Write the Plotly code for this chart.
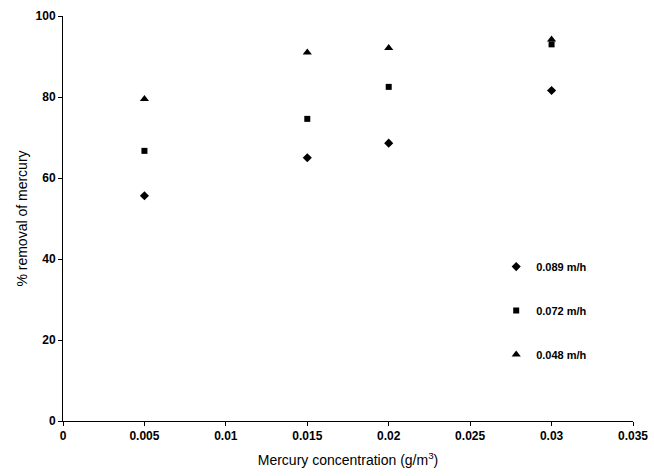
import plotly.graph_objects as go

conc = [0.005, 0.015, 0.02, 0.03]
removal_089 = [55.6, 65.0, 68.6, 81.6]
removal_072 = [66.7, 74.6, 82.5, 93.0]
removal_048 = [79.5, 91.0, 92.1, 94.2]

series = [
    ("0.089 m/h", removal_089, "diamond", 7),
    ("0.072 m/h", removal_072, "square", 6),
    ("0.048 m/h", removal_048, "triangle-up", 8),
]

fig = go.Figure()
for i, (name, vals, sym, sz) in enumerate(series):
    fig.add_trace(go.Scatter(
        x=conc, y=vals, mode="markers", name=name,
        legendgroup=f"g{i}",
        marker=dict(symbol=sym, size=sz, color="black"),
    ))

tickfont = dict(family="Liberation Sans, Arial", size=12, color="black", weight="bold")
fig.update_layout(
    width=654, height=476,
    margin=dict(l=63, r=21, t=16, b=55),
    paper_bgcolor="white", plot_bgcolor="white",
    font=dict(family="Liberation Sans, Arial", color="black"),
    legend=dict(
        x=0.76, y=0.417, xanchor="left", yanchor="top",
        font=dict(family="Liberation Sans, Arial", size=11, color="black", weight="bold"),
        tracegroupgap=25, itemwidth=30, bgcolor="rgba(0,0,0,0)",
    ),
    xaxis=dict(
        range=[0, 0.035], tickvals=[0, 0.005, 0.01, 0.015, 0.02, 0.025, 0.03, 0.035],
        ticktext=["0", "0.005", "0.01", "0.015", "0.02", "0.025", "0.03", "0.035"],
        showgrid=False, zeroline=False, showline=True, linecolor="black", linewidth=1,
        ticks="outside", ticklen=4, tickcolor="black", tickfont=tickfont,
        automargin=False,
        title=dict(text="Mercury concentration (g/m<sup>3</sup>)",
                   font=dict(family="Liberation Sans, Arial", size=14, color="black"),
                   standoff=12),
    ),
    yaxis=dict(
        range=[0, 100], tickvals=[0, 20, 40, 60, 80, 100],
        showgrid=False, zeroline=False, showline=True, linecolor="black", linewidth=1,
        ticks="outside", ticklen=4, tickcolor="black", tickfont=tickfont,
        automargin=False,
        title=dict(text="% removal of mercury",
                   font=dict(family="Liberation Sans, Arial", size=14, color="black"),
                   standoff=4),
    ),
)

fig.write_html("out.html", config={"displayModeBar": False},
               post_script="document.body.style.margin='0';document.body.style.overflow='hidden';")
